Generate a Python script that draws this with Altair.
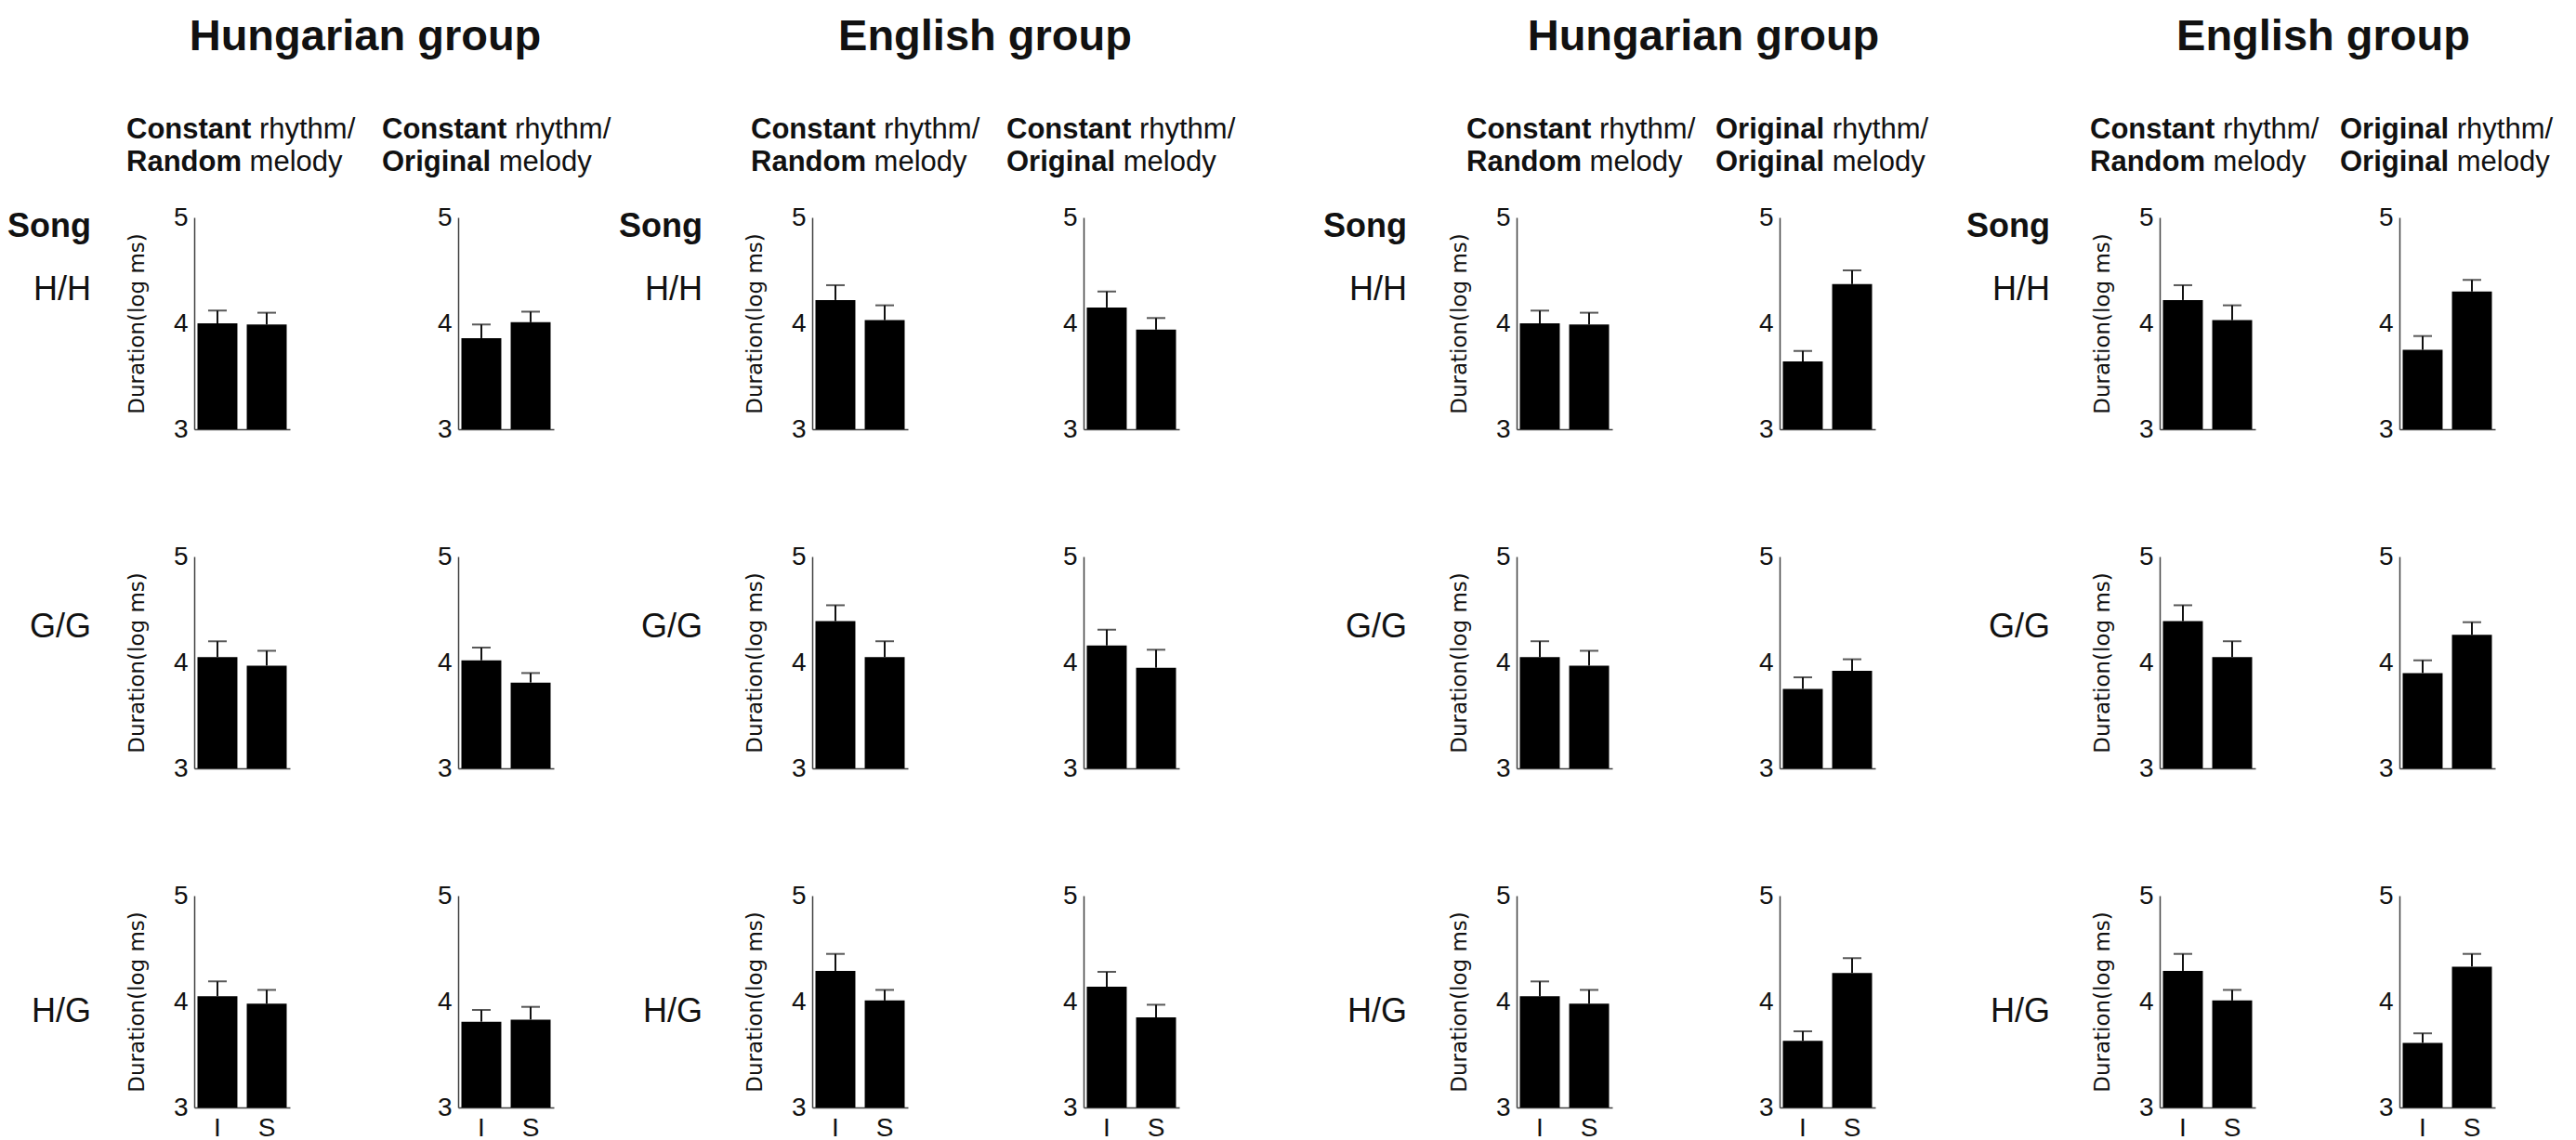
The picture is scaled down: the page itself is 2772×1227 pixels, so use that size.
import altair as alt
import pandas as pd

# ---------------- data ----------------
SONGS = ["H/H", "G/G", "H/G"]
TASKS = ["I", "S"]
GROUP_TITLES = ["Hungarian group", "English group", "Hungarian group", "English group"]
RHYTHM_WORD = ["Constant", "Constant", "Constant", "Constant",
               "Constant", "Original", "Constant", "Original"]
MELODY_WORD = ["Random", "Original", "Random", "Original",
               "Random", "Original", "Random", "Original"]
Y_TICKS = [3, 4, 5]

# mean duration (log ms), one value per panel (8 panels, left to right)
MEAN_I = {
    "H/H": [4.00, 3.86, 4.22, 4.15, 4.00, 3.64, 4.22, 3.75],
    "G/G": [4.05, 4.02, 4.39, 4.16, 4.05, 3.75, 4.39, 3.90],
    "H/G": [4.05, 3.81, 4.29, 4.14, 4.05, 3.63, 4.29, 3.61],
}
MEAN_S = {
    "H/H": [3.99, 4.01, 4.03, 3.94, 3.99, 4.37, 4.03, 4.30],
    "G/G": [3.97, 3.81, 4.05, 3.95, 3.97, 3.92, 4.05, 4.26],
    "H/G": [3.98, 3.83, 4.01, 3.85, 3.98, 4.27, 4.01, 4.33],
}
# top of the error bar
TOP_I = {
    "H/H": [4.12, 3.99, 4.36, 4.30, 4.12, 3.74, 4.36, 3.88],
    "G/G": [4.20, 4.14, 4.54, 4.31, 4.20, 3.86, 4.54, 4.02],
    "H/G": [4.19, 3.92, 4.45, 4.28, 4.19, 3.72, 4.45, 3.70],
}
TOP_S = {
    "H/H": [4.10, 4.11, 4.17, 4.05, 4.10, 4.50, 4.17, 4.41],
    "G/G": [4.11, 3.90, 4.20, 4.12, 4.11, 4.03, 4.20, 4.38],
    "H/G": [4.11, 3.95, 4.11, 3.97, 4.11, 4.41, 4.11, 4.45],
}

rows = []
for song in SONGS:
    for p in range(8):
        rows.append({"song": song, "panel": p, "task": "I",
                     "mean": MEAN_I[song][p], "top": TOP_I[song][p]})
        rows.append({"song": song, "panel": p, "task": "S",
                     "mean": MEAN_S[song][p], "top": TOP_S[song][p]})
df = pd.DataFrame(rows)

# ---------------- layout / style ----------------
PW, PH = 103, 228
GAPS = [181, 278, 189, 363, 180, 306, 155]
HEAD_DX = [-73, -82, -66, -83, -54, -69, -75, -64]
TITLE_DX = [184, 186, 201, 176]
LABEL_DX = [-111, -118, -118, -118]
ROW_LABEL_DY = [89, 87, 136]

SANS = "Liberation Sans, Arial, Helvetica, sans-serif"
NARROW = "Liberation Sans Narrow, Arial Narrow, Liberation Sans, sans-serif"
YTFONT = "DejaVu Sans, Verdana, sans-serif"
INK = "#111111"
AXC = "#404040"

HEAD_FS = 31
TITLE_FS = 47
ROW_FS = 36
TICK_FS = 28

BOLD_W = {'C': 722, 'o': 611, 'n': 611, 's': 556, 't': 333, 'a': 556, 'O': 778,
          'r': 389, 'i': 278, 'g': 611, 'l': 278, 'R': 722, 'd': 611, 'm': 889}


def bold_width(word, size):
    return sum(BOLD_W[c] for c in word) * size / 1000.0


ONE = alt.Data(values=[{}])


def label(text, x, y, size, bold=False, align="left", font=SANS):
    return alt.Chart(ONE).mark_text(
        text=text, fontSize=size, fontWeight="bold" if bold else "normal",
        align=align, baseline="alphabetic", font=font, color=INK
    ).encode(x=alt.value(x), y=alt.value(y))


def panel(p, s):
    song = SONGS[s]
    d = df[(df.panel == p) & (df.song == song)]
    base = alt.Chart(d)
    left = (p % 2 == 0)

    xax = alt.Axis(title=None, labels=(s == 2), ticks=False, tickSize=0,
                   domainColor=AXC, domainWidth=1.5, labelAngle=0,
                   labelFont=NARROW, labelFontSize=TICK_FS, labelColor=INK,
                   labelPadding=8, grid=False)
    yargs = dict(values=Y_TICKS, labelExpr="format(datum.value, 'd')",
                 labelOverlap=False, labelBound=False,
                 ticks=False, tickSize=0,
                 domainColor=AXC, domainWidth=1.5, labelFont=NARROW,
                 labelFontSize=TICK_FS, labelColor=INK, labelPadding=7, grid=False)
    if left:
        yax = alt.Axis(title="Duration(log ms)", titleFont=YTFONT, titleFontSize=23,
                       titleFontWeight="normal", titleColor=INK, titleAngle=270,
                       titleX=-50, titleY=PH / 2, titleAlign="center",
                       titleBaseline="bottom", **yargs)
    else:
        yax = alt.Axis(title=None, **yargs)

    xs = alt.Scale(domain=TASKS, paddingInner=0.19, paddingOuter=0.066)
    ys = alt.Scale(domain=[3, 5], nice=False, zero=False)
    enc_x = alt.X("task:N", sort=TASKS, scale=xs, axis=xax)

    bars = base.mark_bar(color="black").encode(
        x=enc_x, y=alt.Y("mean:Q", scale=ys, axis=yax), y2=alt.Y2Datum(3))
    err = base.mark_rule(color=INK, strokeWidth=2).encode(
        x=enc_x, y=alt.Y("mean:Q", scale=ys, axis=yax), y2="top:Q")
    cap = base.mark_tick(color=INK, orient="horizontal", size=20, thickness=2).encode(
        x=enc_x, y=alt.Y("top:Q", scale=ys, axis=yax))

    layers = [bars, err, cap]
    g = p // 2
    if s == 0:
        x0 = HEAD_DX[p]
        rw = RHYTHM_WORD[p]
        mw = MELODY_WORD[p]
        sp = 0.278 * HEAD_FS
        layers.append(label(rw, x0, -85, HEAD_FS, bold=True))
        layers.append(label("rhythm/", x0 + bold_width(rw, HEAD_FS) + sp, -85, HEAD_FS))
        layers.append(label(mw, x0, -50, HEAD_FS, bold=True))
        layers.append(label("melody", x0 + bold_width(mw, HEAD_FS) + sp, -50, HEAD_FS))
        if left:
            layers.append(label(GROUP_TITLES[g], TITLE_DX[g], -180, TITLE_FS,
                                bold=True, align="center"))
            layers.append(label("Song", LABEL_DX[g], 21, ROW_FS, bold=True, align="right"))
    if left:
        layers.append(label(song, LABEL_DX[g], ROW_LABEL_DY[s], ROW_FS, align="right"))

    return alt.layer(*layers).properties(width=PW, height=PH)


def spacer(w):
    return alt.Chart(ONE).mark_text(text="").encode(
        x=alt.value(0), y=alt.value(0)).properties(width=w, height=PH)


cells = []
for s in range(3):
    for p in range(8):
        cells.append(panel(p, s))
        if p < 7:
            cells.append(spacer(GAPS[p]))

chart = alt.concat(
    *cells, columns=15, spacing={"row": 137, "column": 0},
    bounds="flush", align="each"
).properties(
    padding={"left": 0, "top": 8, "right": 2, "bottom": 0},
    background="white"
).configure_view(stroke=None)

chart.save("out.html", embed_options={"renderer": "svg", "actions": False})
